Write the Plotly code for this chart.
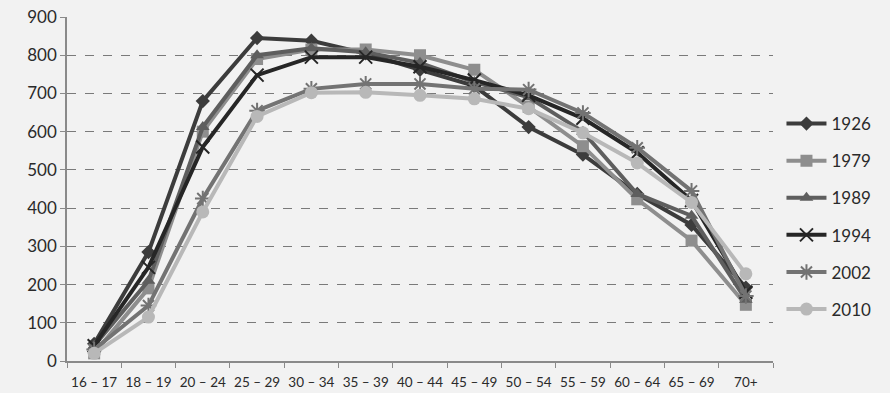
import plotly.graph_objects as go

categories = ["16 – 17", "18 – 19", "20 – 24", "25 – 29", "30 – 34", "35 – 39", "40 – 44",
              "45 – 49", "50 – 54", "55 – 59", "60 – 64", "65 – 69", "70+"]
y1926 = [45, 285, 680, 845, 838, 805, 762, 720, 612, 540, 437, 356, 192]
y1979 = [20, 190, 600, 790, 815, 815, 800, 762, 665, 562, 423, 315, 147]
y1989 = [40, 210, 612, 800, 818, 808, 780, 730, 690, 600, 437, 380, 160]
y1994 = [40, 245, 560, 748, 795, 795, 770, 735, 695, 635, 545, 420, 180]
y2002 = [30, 145, 425, 655, 712, 725, 725, 712, 710, 649, 558, 445, 170]
y2010 = [20, 115, 390, 640, 702, 703, 695, 686, 660, 597, 518, 415, 228]
years = ["1926", "1979", "1989", "1994", "2002", "2010"]
yticks = [0, 100, 200, 300, 400, 500, 600, 700, 800, 900]

series = [y1926, y1979, y1989, y1994, y2002, y2010]
colors = ["#3c3c3c", "#8e8e8e", "#5e5e5e", "#262626", "#737373", "#b8b8b8"]
symbols = ["diamond", "square", "triangle-up", "x-thin-open", "asterisk-open", "circle"]
sizes = [11, 12, 12, 13, 13, 13]

fig = go.Figure()
for name, ys, c, s, sz in zip(years, series, colors, symbols, sizes):
    fig.add_trace(go.Scatter(
        x=categories, y=ys, name=name, mode="lines+markers",
        legendgroup=name,
        line=dict(color=c, width=4),
        marker=dict(symbol=s, size=sz, color=c, line=dict(color=c, width=2 if "open" in s else 0)),
    ))

font = "Lato, 'Open Sans', sans-serif"
fig.update_layout(
    width=890, height=393,
    margin=dict(l=67, r=117, t=17, b=32),
    paper_bgcolor="#f2f2f2", plot_bgcolor="#f2f2f2",
    font=dict(family=font, color="#2a2a2a"),
    showlegend=True,
    legend=dict(x=1.012, y=0.42, xanchor="left", yanchor="middle",
                font=dict(size=17, color="#2a2a2a"), tracegroupgap=12,
                bgcolor="rgba(0,0,0,0)", itemwidth=40),
    xaxis=dict(type="category", showgrid=False, showline=True, linecolor="#8a8a8a", linewidth=1.5,
               ticks="outside", tickson="boundaries", ticklen=5, tickcolor="#8a8a8a",
               tickangle=0, ticklabelstandoff=8, tickfont=dict(size=13.5, color="#2a2a2a"),
               range=[-0.5, 12.5], automargin=False),
    yaxis=dict(range=[0, 900], tickvals=yticks, showgrid=True, gridcolor="#7a7a7a",
               griddash="dash", gridwidth=1, showline=True, linecolor="#8a8a8a", linewidth=1.5,
               ticks="outside", ticklen=5, tickcolor="#8a8a8a", automargin=False,
               tickfont=dict(size=17, color="#2a2a2a"), zeroline=False),
)
fig.write_html("out.html")
